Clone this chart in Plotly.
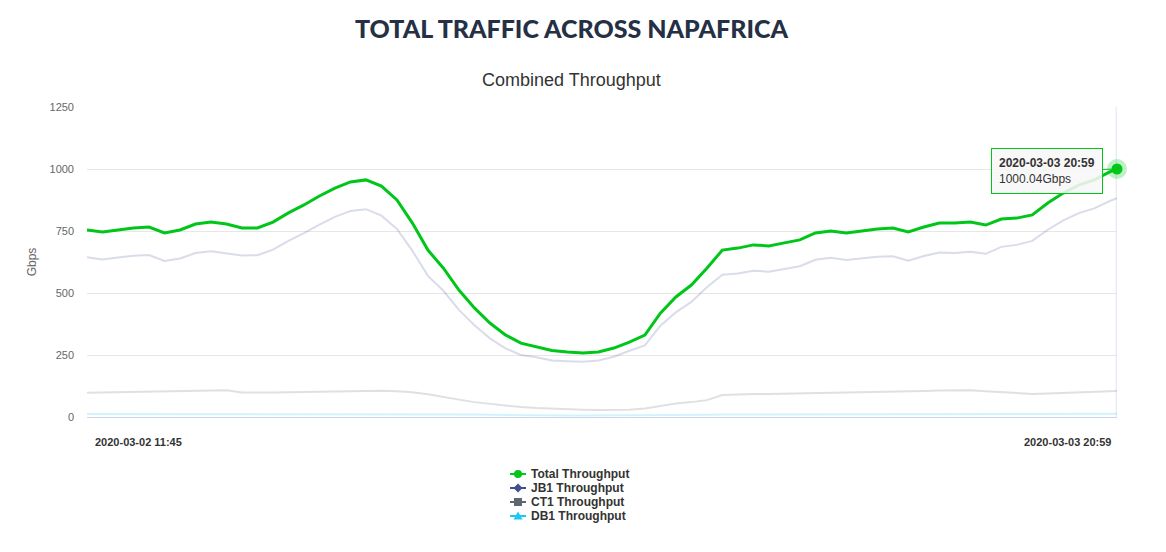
import pandas as pd
import plotly.graph_objects as go

# ---------------- data ----------------
times = list(pd.date_range("2020-03-02 11:45", periods=67, freq="30min")) + [pd.Timestamp("2020-03-03 20:59")]

total = [754, 746, 754, 762, 766, 742, 754, 778, 786, 778,
         762, 762, 786, 823, 855, 891, 923, 948, 956, 931,
         875, 782, 673, 600, 512, 440, 379, 331, 298, 284,
         268, 262, 258, 262, 278, 302, 330, 419, 484, 532,
         600, 673, 681, 694, 690, 702, 714, 742, 750, 742,
         750, 758, 762, 746, 766, 782, 782, 786, 774, 798,
         802, 815, 863, 903, 935, 956, 988, 1000.04]

jb1 = [644, 635, 643, 650, 653, 629, 639, 661, 668, 658,
       651, 652, 675, 710, 741, 776, 807, 831, 838, 812,
       758, 670, 569, 509, 432, 370, 317, 277, 250, 241,
       228, 225, 223, 228, 243, 267, 289, 368, 422, 464,
       523, 574, 579, 590, 586, 597, 608, 634, 642, 633,
       640, 646, 648, 630, 649, 663, 661, 666, 658, 686,
       694, 710, 755, 793, 822, 841, 871, 882]

ct1 = [98, 99, 99, 100, 101, 101, 103, 105, 106, 108,
       99, 98, 99, 100, 101, 102, 103, 104, 105, 106,
       104, 100, 92, 80, 70, 60, 53, 46, 40, 36,
       33, 31, 29, 28, 29, 29, 34, 44, 54, 60,
       68, 89, 92, 93, 93, 94, 95, 96, 96, 97,
       98, 100, 102, 104, 105, 107, 109, 108, 104, 100,
       96, 93, 95, 97, 100, 102, 104, 105]

db1 = [12, 12, 12, 12, 12, 12, 12, 12, 12, 12,
       12, 12, 12, 13, 13, 13, 13, 13, 13, 13,
       13, 12, 12, 11, 10, 10, 9, 8, 8, 7,
       7, 6, 6, 6, 6, 6, 7, 7, 8, 8,
       9, 10, 10, 11, 11, 11, 11, 12, 12, 12,
       12, 12, 12, 12, 12, 12, 12, 12, 12, 12,
       12, 12, 13, 13, 13, 13, 13, 13]

series_names = ["Total Throughput", "JB1 Throughput", "CT1 Throughput", "DB1 Throughput"]
series_colors = ["#00c61a", "#434e91", "#5f6670", "#1ac9f0"]
dim_colors = ["#00c61a", "rgba(67,78,145,0.2)", "rgba(95,102,112,0.2)", "rgba(26,201,240,0.2)"]

x_tick_labels = ["2020-03-02 11:45", "2020-03-03 20:59"]
y_ticks = [0, 250, 500, 750, 1000, 1250]

hover_time = "2020-03-03 20:59"
hover_value = 1000.04

FONT = "Liberation Sans, Arial, sans-serif"

# plot-area geometry (pixels) used for placing titles / legend
L, R, T, B = 87, 1117, 107, 417
def px_x(px):
    return (px - L) / (R - L)
def px_y(py):
    return (B - py) / (B - T)

fig = go.Figure()

values = [total, jb1, ct1, db1]
for k in [3, 2, 1]:
    fig.add_trace(go.Scatter(x=times, y=values[k], mode="lines", name=series_names[k],
                             line=dict(color=dim_colors[k], width=2),
                             showlegend=False, hoverinfo="skip"))
fig.add_trace(go.Scatter(x=times, y=total, mode="lines", name=series_names[0],
                         line=dict(color=series_colors[0], width=3),
                         showlegend=False, hoverinfo="skip"))

# hover halo + point
fig.add_trace(go.Scatter(x=[times[-1]], y=[total[-1]], mode="markers",
                         marker=dict(color="rgba(0,198,26,0.25)", size=20, line=dict(width=0)),
                         showlegend=False, hoverinfo="skip", cliponaxis=False))
fig.add_trace(go.Scatter(x=[times[-1]], y=[total[-1]], mode="markers",
                         marker=dict(color=series_colors[0], size=11, line=dict(width=0)),
                         showlegend=False, hoverinfo="skip", cliponaxis=False))

# crosshair
fig.add_shape(type="line", xref="x", yref="paper", x0=times[-1], x1=times[-1], y0=0, y1=1,
              line=dict(color="rgba(204,214,235,0.45)", width=3), layer="below")

# tooltip
fig.add_annotation(x=times[-1], y=total[-1], xref="x", yref="y",
                   text=f"<b>{hover_time}</b><br>{hover_value:.2f}Gbps",
                   showarrow=True, arrowhead=0, arrowwidth=1, arrowcolor=series_colors[0],
                   ax=-70, ay=2, align="left",
                   font=dict(family=FONT, size=12, color="#333333"),
                   bgcolor="rgba(247,247,247,0.88)", bordercolor=series_colors[0],
                   borderwidth=1, borderpad=7)

# x labels
fig.add_annotation(x=times[0], y=0, xref="x", yref="paper", yshift=-25, xshift=6,
                   text=f"<b>{x_tick_labels[0]}</b>", showarrow=False, xanchor="left", yanchor="middle",
                   font=dict(family=FONT, size=11, color="#333333"))
fig.add_annotation(x=times[-1], y=0, xref="x", yref="paper", yshift=-25, xshift=-4,
                   text=f"<b>{x_tick_labels[1]}</b>", showarrow=False, xanchor="right", yanchor="middle",
                   font=dict(family=FONT, size=11, color="#333333"))

# titles
fig.add_annotation(x=px_x(571), y=px_y(28), xref="paper", yref="paper",
                   text="TOTAL TRAFFIC ACROSS NAPAFRICA", showarrow=False,
                   xanchor="center", yanchor="middle",
                   font=dict(family="Lato", size=25, color="#253044", weight=900))
fig.add_annotation(x=px_x(571), y=px_y(80), xref="paper", yref="paper",
                   text="Combined Throughput", showarrow=False, xanchor="center", yanchor="middle",
                   font=dict(family=FONT, size=18, color="#333333"))

# manual legend (Highcharts style: 16px symbol line + marker, tight rows)
leg_rows = [474, 488, 502, 516]
sym_x0, sym_x1, sym_c, text_x = 510, 526, 518, 529
for k in range(4):
    yy = px_y(leg_rows[k])
    fig.add_shape(type="line", xref="paper", yref="paper", x0=px_x(sym_x0), x1=px_x(sym_x1),
                  y0=yy, y1=yy, line=dict(color=series_colors[k], width=2))
    common = dict(xref="paper", yref="paper", xsizemode="pixel", ysizemode="pixel",
                  xanchor=px_x(sym_c), yanchor=yy, fillcolor=series_colors[k],
                  line=dict(width=0))
    if k == 0:
        fig.add_shape(type="circle", x0=-4, x1=4, y0=-4, y1=4, **common)
    elif k == 1:
        fig.add_shape(type="path", path="M 0,-4.5 L 4.5,0 L 0,4.5 L -4.5,0 Z", **common)
    elif k == 2:
        fig.add_shape(type="rect", x0=-4, x1=4, y0=-4, y1=4, **common)
    else:
        fig.add_shape(type="path", path="M -4.5,-3.5 L 4.5,-3.5 L 0,4.5 Z", **common)
    fig.add_annotation(x=px_x(text_x), y=yy, xref="paper", yref="paper", text=f"<b>{series_names[k]}</b>",
                       showarrow=False, xanchor="left", yanchor="middle",
                       font=dict(family=FONT, size=12, color="#333333"))

fig.update_layout(
    width=1166, height=552,
    margin=dict(l=L, r=1166 - R, t=T, b=552 - B),
    paper_bgcolor="white", plot_bgcolor="white",
    font=dict(family=FONT, color="#333333"),
    showlegend=False,
    xaxis=dict(range=[times[0], times[-1]], showgrid=False, showticklabels=False,
               showline=True, linecolor="#ccd6eb", linewidth=1, ticks="", zeroline=False, fixedrange=True),
    yaxis=dict(range=[0, 1250], tickvals=y_ticks, showgrid=True, gridcolor="#e6e6e6", gridwidth=1,
               zeroline=False, showline=False, ticks="",
               tickfont=dict(family=FONT, size=11, color="#666666"),
               ticklabelstandoff=12,
               title=dict(text="Gbps", font=dict(family=FONT, size=12, color="#666666"), standoff=10)),
)

fig.write_html("out.html", config={"displayModeBar": False},
               post_script="document.body.style.margin='0';")
